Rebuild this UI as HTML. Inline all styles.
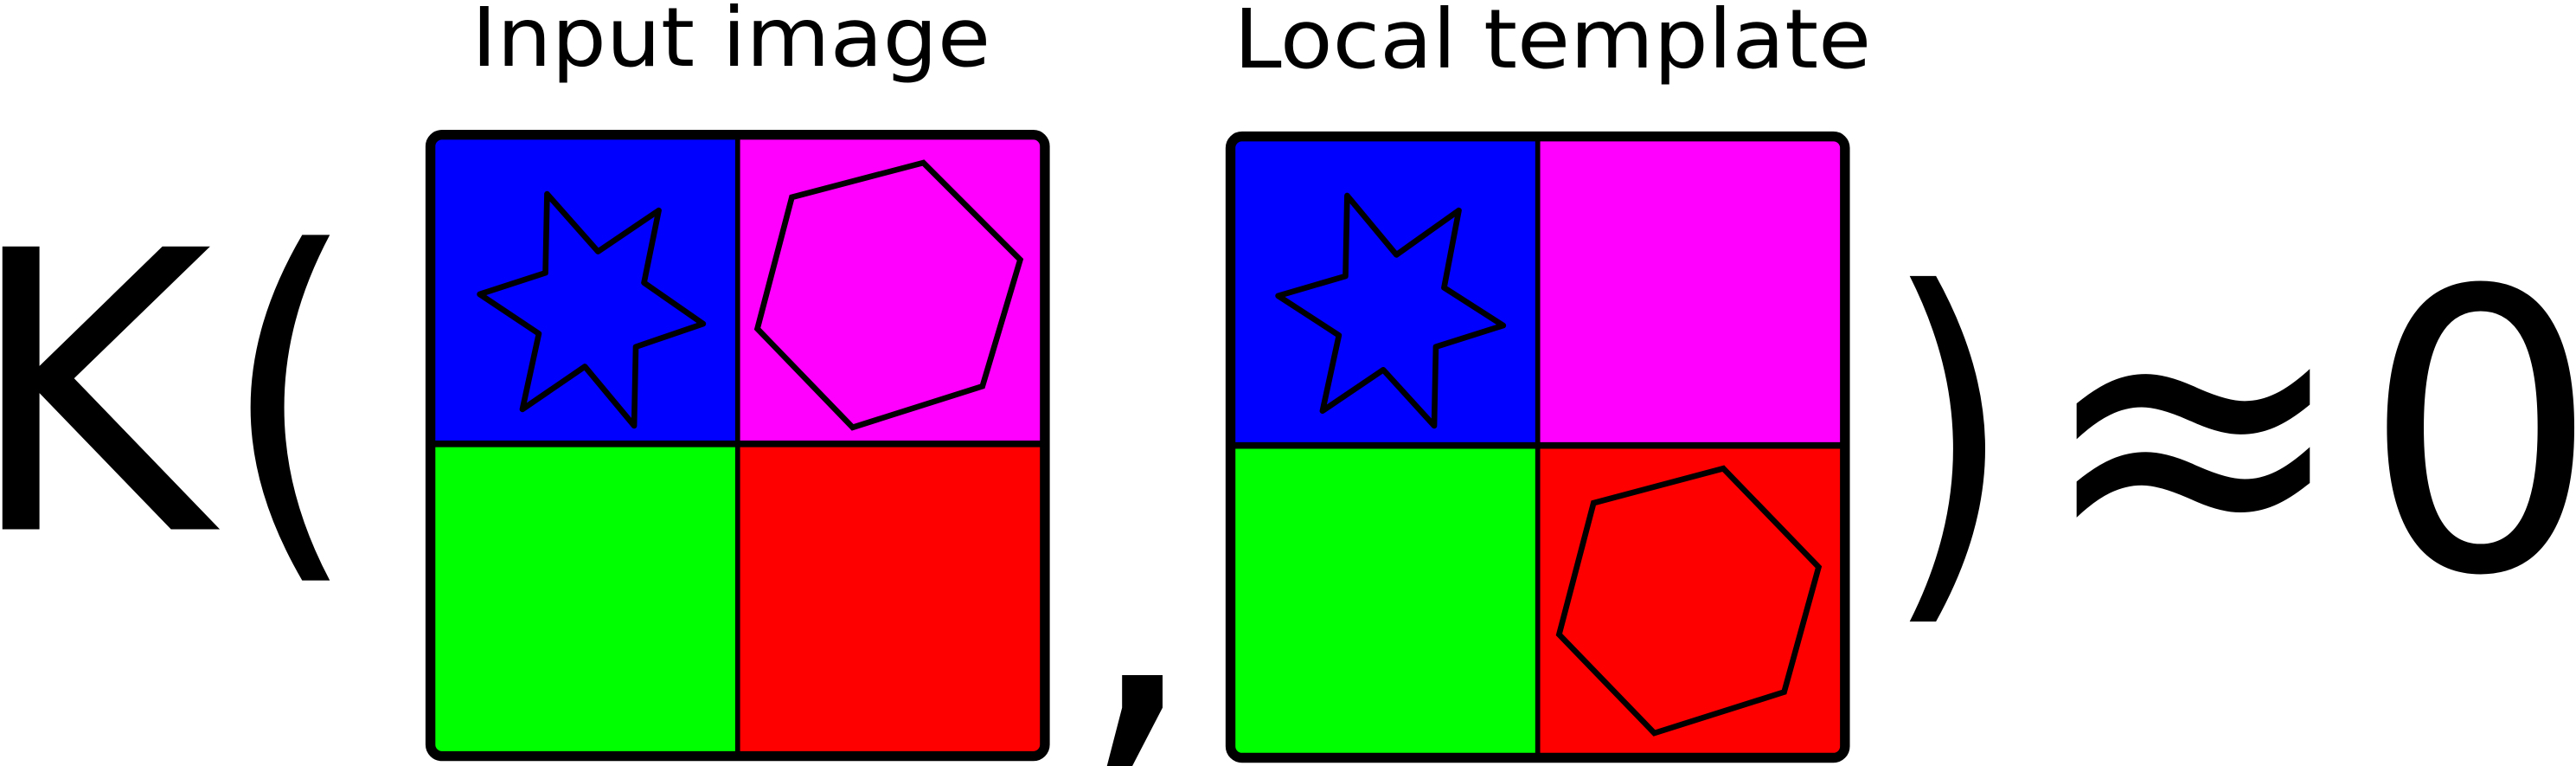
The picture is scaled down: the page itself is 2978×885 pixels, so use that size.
<!DOCTYPE html>
<html><head><meta charset="utf-8"><style>html,body{margin:0;padding:0;background:#fff;overflow:hidden}svg{display:block}</style></head>
<body>
<svg width="2978" height="885" viewBox="0 0 1568 466" preserveAspectRatio="none" xmlns="http://www.w3.org/2000/svg" font-family="DejaVu Sans, Liberation Sans, sans-serif">
<text x="445" y="40" font-size="50" text-anchor="middle" textLength="316" lengthAdjust="spacingAndGlyphs">Input image</text>
<text x="945" y="41" font-size="50" text-anchor="middle" textLength="388" lengthAdjust="spacingAndGlyphs">Local template</text>
<text x="-21" y="322" font-size="236" textLength="150" lengthAdjust="spacingAndGlyphs">K</text>
<text x="134" y="322" font-size="236" textLength="84" lengthAdjust="spacingAndGlyphs">(</text>
<g>
<rect x="264" y="83" width="186" height="187" fill="#0000ff"/>
<rect x="450" y="83" width="185" height="187" fill="#ff00ff"/>
<rect x="264" y="270" width="186" height="189" fill="#00ff00"/>
<rect x="450" y="270" width="185" height="189" fill="#ff0000"/>
<line x1="449" y1="82" x2="449" y2="460" stroke="#000" stroke-width="3"/>
<line x1="263" y1="270" x2="636" y2="270" stroke="#000" stroke-width="4"/>
<polygon points="333,118 364,153 401,128 392,172 428,197 387,211 386,259 356,223 318,249 328,203 292,179 332,166" fill="none" stroke="#000" stroke-width="3.5" stroke-linejoin="round"/>
<polygon points="562,99 621,158 598,235 519,260 461,200 482,120" fill="none" stroke="#000" stroke-width="3.5"/>
<rect x="262" y="82" width="374" height="378" rx="7" fill="none" stroke="#000" stroke-width="6"/>
</g>
<text x="655" y="440" font-size="236" textLength="76" lengthAdjust="spacingAndGlyphs">,</text>
<g>
<rect x="750" y="84" width="186" height="187" fill="#0000ff"/>
<rect x="936" y="84" width="186" height="187" fill="#ff00ff"/>
<rect x="750" y="271" width="186" height="189" fill="#00ff00"/>
<rect x="936" y="271" width="186" height="189" fill="#ff0000"/>
<line x1="936" y1="83" x2="936" y2="461" stroke="#000" stroke-width="3"/>
<line x1="749" y1="271" x2="1123" y2="271" stroke="#000" stroke-width="4"/>
<polygon points="820,119 850,155 888,128 879,175 915,198 874,211 873,259 842,225 805,250 815,204 778,180 819,168" fill="none" stroke="#000" stroke-width="3.5" stroke-linejoin="round"/>
<polygon points="1049,285 1107,345 1086,421 1007,446 949,386 970,306" fill="none" stroke="#000" stroke-width="3.5"/>
<rect x="749" y="83" width="374" height="378" rx="7" fill="none" stroke="#000" stroke-width="6"/>
</g>
<text x="1146" y="347" font-size="236" textLength="80" lengthAdjust="spacingAndGlyphs">)</text>
<text x="1240" y="348" font-size="250" textLength="190" lengthAdjust="spacingAndGlyphs">≈</text>
<text x="1438" y="346" font-size="236" textLength="144" lengthAdjust="spacingAndGlyphs">0</text>
</svg>
</body></html>
